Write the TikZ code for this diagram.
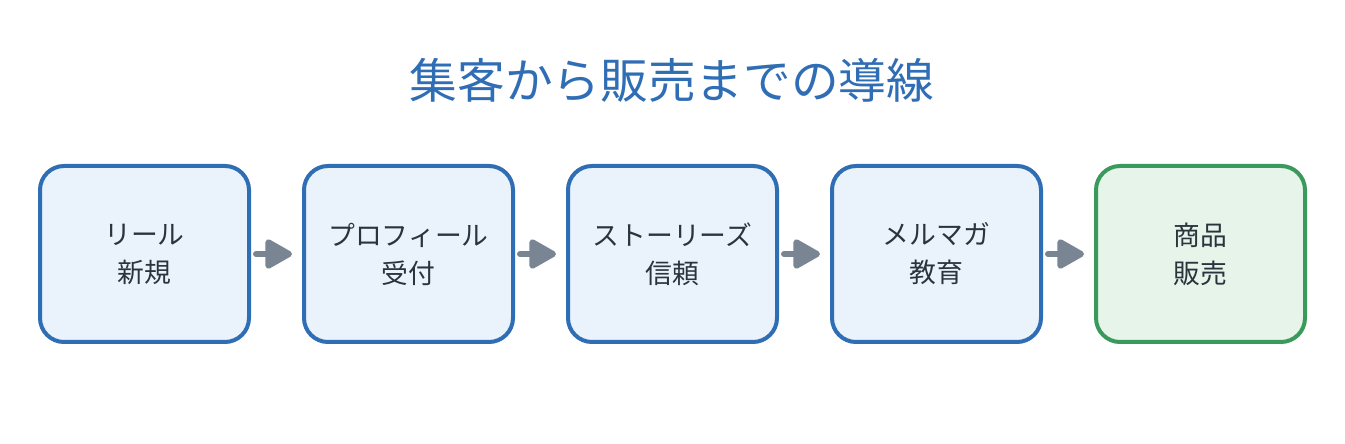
\documentclass[tikz,border=0pt]{standalone}
\usepackage{fontspec}
\newfontfamily\jpfont{Noto Sans CJK JP}
\usetikzlibrary{arrows.meta,positioning}
\definecolor{stageblue}{HTML}{2F6DB5}
\definecolor{stagefill}{HTML}{EAF2FB}
\definecolor{salegreen}{HTML}{3A9A5B}
\definecolor{salefill}{HTML}{E6F4EA}
\definecolor{flowgray}{HTML}{7A8594}
\definecolor{textdark}{HTML}{2B333D}

\begin{document}
\begin{tikzpicture}[
      x=1pt,y=1pt,
      node distance=7mm and 51pt,
      stage/.style={draw=stageblue,line width=4pt,rounded corners=24pt,fill=stagefill,
                    align=center,font=\jpfont\fontsize{26.8pt}{38pt}\selectfont,text=textdark,
                    minimum width=209pt,minimum height=176pt,inner sep=0pt},
      flow/.style={-{Triangle[length=30pt,width=32pt,round]},line width=6pt,line cap=round,
                   draw=flowgray,shorten <=5pt,shorten >=10pt},
    ]
    \useasboundingbox (0,0) rectangle (1345,444);
    \node[font=\jpfont\fontsize{47.7pt}{52pt}\selectfont,text=stageblue] (title) at (672,364) {集客から販売までの導線};

    \node[stage] (reel) at (144.5,190) {リール\\新規};
    \node[stage,right=of reel] (prof) {プロフィール\\受付};
    \node[stage,right=of prof] (story) {ストーリーズ\\信頼};
    \node[stage,right=of story] (mail) {メルマガ\\教育};
    \node[stage,right=of mail,draw=salegreen,fill=salefill] (sale) {商品\\販売};

    \draw[flow] (reel) -- (prof);
    \draw[flow] (prof) -- (story);
    \draw[flow] (story) -- (mail);
    \draw[flow] (mail) -- (sale);
  \end{tikzpicture}
\end{document}
